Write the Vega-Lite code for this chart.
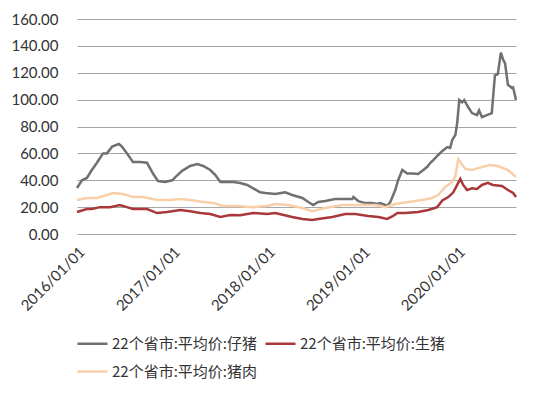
{
  "$schema": "https://vega.github.io/schema/vega-lite/v6.json",
  "width": 439,
  "height": 215,
  "autosize": "none",
  "padding": {"left": 77, "top": 19, "right": 34, "bottom": 162},
  "background": "white",
  "config": {
    "view": {"stroke": null},
    "axisY": {"grid": true, "gridColor": "#a6a6a6", "gridWidth": 1, "gridOpacity": 1, "domain": false, "ticks": false,
      "labelFont": "Lato", "labelFontSize": 15, "labelColor": "#333333", "labelPadding": 19},
    "axisX": {"grid": false, "domain": false, "ticks": false, "labelFont": "Lato", "labelFontSize": 15,
      "labelColor": "#333333", "labelPadding": 10, "labelFlush": false, "labelAngle": -45}
  },
  "data": {"values": [
    {"s": "仔猪", "date": "2016-01-01", "v": 34.2}, {"s": "仔猪", "date": "2016-01-20", "v": 40}, {"s": "仔猪", "date": "2016-02-08", "v": 41.7},
    {"s": "仔猪", "date": "2016-02-27", "v": 47.6}, {"s": "仔猪", "date": "2016-03-17", "v": 52.8}, {"s": "仔猪", "date": "2016-04-10", "v": 60},
    {"s": "仔猪", "date": "2016-04-25", "v": 60}, {"s": "仔猪", "date": "2016-05-15", "v": 65}, {"s": "仔猪", "date": "2016-06-10", "v": 67},
    {"s": "仔猪", "date": "2016-06-22", "v": 65}, {"s": "仔猪", "date": "2016-07-11", "v": 60}, {"s": "仔猪", "date": "2016-08-03", "v": 53.6},
    {"s": "仔猪", "date": "2016-08-30", "v": 53.6}, {"s": "仔猪", "date": "2016-09-26", "v": 53}, {"s": "仔猪", "date": "2016-10-19", "v": 45},
    {"s": "仔猪", "date": "2016-11-07", "v": 39.4}, {"s": "仔猪", "date": "2016-12-04", "v": 38.7}, {"s": "仔猪", "date": "2017-01-01", "v": 40},
    {"s": "仔猪", "date": "2017-01-13", "v": 42.4}, {"s": "仔猪", "date": "2017-02-08", "v": 47}, {"s": "仔猪", "date": "2017-03-11", "v": 50.6},
    {"s": "仔猪", "date": "2017-04-07", "v": 52}, {"s": "仔猪", "date": "2017-04-30", "v": 50.6}, {"s": "仔猪", "date": "2017-05-27", "v": 47.6},
    {"s": "仔猪", "date": "2017-06-15", "v": 44}, {"s": "仔猪", "date": "2017-07-05", "v": 38.7}, {"s": "仔猪", "date": "2017-08-04", "v": 38.7},
    {"s": "仔猪", "date": "2017-08-24", "v": 38.7}, {"s": "仔猪", "date": "2017-09-19", "v": 38}, {"s": "仔猪", "date": "2017-10-16", "v": 36.5},
    {"s": "仔猪", "date": "2017-11-08", "v": 34}, {"s": "仔猪", "date": "2017-12-05", "v": 31}, {"s": "仔猪", "date": "2017-12-25", "v": 30.5},
    {"s": "仔猪", "date": "2018-02-01", "v": 29.8}, {"s": "仔猪", "date": "2018-03-11", "v": 31}, {"s": "仔猪", "date": "2018-04-07", "v": 29},
    {"s": "仔猪", "date": "2018-05-16", "v": 26.8}, {"s": "仔猪", "date": "2018-06-08", "v": 23.8}, {"s": "仔猪", "date": "2018-06-27", "v": 21.6},
    {"s": "仔猪", "date": "2018-07-16", "v": 23.8}, {"s": "仔猪", "date": "2018-08-12", "v": 24.5}, {"s": "仔猪", "date": "2018-09-19", "v": 26},
    {"s": "仔猪", "date": "2018-10-16", "v": 26}, {"s": "仔猪", "date": "2018-11-24", "v": 26}, {"s": "仔猪", "date": "2018-11-28", "v": 27.5},
    {"s": "仔猪", "date": "2018-12-17", "v": 24.5}, {"s": "仔猪", "date": "2019-01-13", "v": 23}, {"s": "仔猪", "date": "2019-02-08", "v": 23},
    {"s": "仔猪", "date": "2019-02-28", "v": 22.3}, {"s": "仔猪", "date": "2019-03-11", "v": 23}, {"s": "仔猪", "date": "2019-04-07", "v": 21},
    {"s": "仔猪", "date": "2019-04-19", "v": 23.8}, {"s": "仔猪", "date": "2019-05-08", "v": 32.7}, {"s": "仔猪", "date": "2019-05-19", "v": 40},
    {"s": "仔猪", "date": "2019-06-04", "v": 47.6}, {"s": "仔猪", "date": "2019-06-23", "v": 45}, {"s": "仔猪", "date": "2019-07-12", "v": 45},
    {"s": "仔猪", "date": "2019-08-04", "v": 44.6}, {"s": "仔猪", "date": "2019-08-24", "v": 47.6}, {"s": "仔猪", "date": "2019-09-08", "v": 50},
    {"s": "仔猪", "date": "2019-09-19", "v": 52.8}, {"s": "仔猪", "date": "2019-10-01", "v": 55}, {"s": "仔猪", "date": "2019-10-20", "v": 58.8},
    {"s": "仔猪", "date": "2019-11-05", "v": 61.8}, {"s": "仔猪", "date": "2019-11-24", "v": 64.7}, {"s": "仔猪", "date": "2019-12-05", "v": 64},
    {"s": "仔猪", "date": "2019-12-13", "v": 70}, {"s": "仔猪", "date": "2019-12-25", "v": 73.7}, {"s": "仔猪", "date": "2020-01-01", "v": 82.6},
    {"s": "仔猪", "date": "2020-01-09", "v": 99.7}, {"s": "仔猪", "date": "2020-01-20", "v": 98}, {"s": "仔猪", "date": "2020-01-28", "v": 99.7},
    {"s": "仔猪", "date": "2020-02-12", "v": 94.5}, {"s": "仔猪", "date": "2020-02-27", "v": 90}, {"s": "仔猪", "date": "2020-03-17", "v": 88.5},
    {"s": "仔猪", "date": "2020-03-25", "v": 92}, {"s": "仔猪", "date": "2020-04-05", "v": 87}, {"s": "仔猪", "date": "2020-04-24", "v": 88.5},
    {"s": "仔猪", "date": "2020-05-13", "v": 90}, {"s": "仔猪", "date": "2020-05-17", "v": 99.7}, {"s": "仔猪", "date": "2020-05-25", "v": 118},
    {"s": "仔猪", "date": "2020-06-05", "v": 119}, {"s": "仔猪", "date": "2020-06-17", "v": 135}, {"s": "仔猪", "date": "2020-06-25", "v": 130},
    {"s": "仔猪", "date": "2020-07-03", "v": 127}, {"s": "仔猪", "date": "2020-07-14", "v": 111}, {"s": "仔猪", "date": "2020-07-30", "v": 108.6},
    {"s": "仔猪", "date": "2020-08-03", "v": 109}, {"s": "仔猪", "date": "2020-08-14", "v": 99.7},
    {"s": "生猪", "date": "2016-01-01", "v": 16.4}, {"s": "生猪", "date": "2016-02-08", "v": 18.6}, {"s": "生猪", "date": "2016-02-27", "v": 18.6},
    {"s": "生猪", "date": "2016-03-29", "v": 20}, {"s": "生猪", "date": "2016-05-07", "v": 20}, {"s": "生猪", "date": "2016-06-14", "v": 21.6},
    {"s": "生猪", "date": "2016-07-11", "v": 20}, {"s": "生猪", "date": "2016-08-03", "v": 18.6}, {"s": "生猪", "date": "2016-09-26", "v": 18.6},
    {"s": "生猪", "date": "2016-11-04", "v": 15.6}, {"s": "生猪", "date": "2016-12-12", "v": 16.4}, {"s": "生猪", "date": "2017-02-01", "v": 17.9},
    {"s": "生猪", "date": "2017-03-11", "v": 17}, {"s": "生猪", "date": "2017-04-19", "v": 15.6}, {"s": "生猪", "date": "2017-05-27", "v": 14.9},
    {"s": "生猪", "date": "2017-07-05", "v": 12.6}, {"s": "生猪", "date": "2017-08-12", "v": 14.1}, {"s": "生猪", "date": "2017-09-19", "v": 14},
    {"s": "生猪", "date": "2017-11-08", "v": 15.6}, {"s": "生猪", "date": "2018-01-01", "v": 14.9}, {"s": "生猪", "date": "2018-02-01", "v": 15.6},
    {"s": "生猪", "date": "2018-04-07", "v": 12.6}, {"s": "生猪", "date": "2018-05-16", "v": 11.2}, {"s": "生猪", "date": "2018-06-23", "v": 10.4},
    {"s": "生猪", "date": "2018-07-16", "v": 11.2}, {"s": "生猪", "date": "2018-09-08", "v": 12.6}, {"s": "生猪", "date": "2018-10-28", "v": 14.9},
    {"s": "生猪", "date": "2018-12-05", "v": 14.9}, {"s": "生猪", "date": "2019-01-24", "v": 13.4}, {"s": "生猪", "date": "2019-03-04", "v": 12.6},
    {"s": "生猪", "date": "2019-04-07", "v": 11.2}, {"s": "生猪", "date": "2019-04-30", "v": 13.4}, {"s": "生猪", "date": "2019-05-16", "v": 15.6},
    {"s": "生猪", "date": "2019-06-15", "v": 15.6}, {"s": "生猪", "date": "2019-08-04", "v": 16.4}, {"s": "生猪", "date": "2019-09-12", "v": 17.9},
    {"s": "生猪", "date": "2019-10-16", "v": 20}, {"s": "生猪", "date": "2019-11-05", "v": 25}, {"s": "生猪", "date": "2019-11-28", "v": 27.5},
    {"s": "生猪", "date": "2019-12-17", "v": 31}, {"s": "生猪", "date": "2020-01-01", "v": 36.5}, {"s": "生猪", "date": "2020-01-13", "v": 41},
    {"s": "生猪", "date": "2020-01-24", "v": 36.5}, {"s": "生猪", "date": "2020-02-08", "v": 32.7}, {"s": "生猪", "date": "2020-02-27", "v": 34},
    {"s": "生猪", "date": "2020-03-17", "v": 33.5}, {"s": "生猪", "date": "2020-04-05", "v": 36.5}, {"s": "生猪", "date": "2020-04-28", "v": 38},
    {"s": "生猪", "date": "2020-05-17", "v": 36.5}, {"s": "生猪", "date": "2020-06-21", "v": 35.7}, {"s": "生猪", "date": "2020-07-14", "v": 32.7},
    {"s": "生猪", "date": "2020-08-03", "v": 30.5}, {"s": "生猪", "date": "2020-08-14", "v": 27.5},
    {"s": "猪肉", "date": "2016-01-01", "v": 25.3}, {"s": "猪肉", "date": "2016-02-08", "v": 26.8}, {"s": "猪肉", "date": "2016-03-17", "v": 26.8},
    {"s": "猪肉", "date": "2016-04-25", "v": 29}, {"s": "猪肉", "date": "2016-05-18", "v": 30.5}, {"s": "猪肉", "date": "2016-06-26", "v": 29.8},
    {"s": "猪肉", "date": "2016-08-03", "v": 27.5}, {"s": "猪肉", "date": "2016-09-11", "v": 27.5}, {"s": "猪肉", "date": "2016-11-04", "v": 25.3},
    {"s": "猪肉", "date": "2016-12-24", "v": 25.3}, {"s": "猪肉", "date": "2017-02-01", "v": 26}, {"s": "猪肉", "date": "2017-03-11", "v": 25.3},
    {"s": "猪肉", "date": "2017-04-30", "v": 23.8}, {"s": "猪肉", "date": "2017-06-08", "v": 23}, {"s": "猪肉", "date": "2017-07-16", "v": 20.8},
    {"s": "猪肉", "date": "2017-09-08", "v": 20.8}, {"s": "猪肉", "date": "2017-11-08", "v": 20}, {"s": "猪肉", "date": "2018-01-01", "v": 20.8},
    {"s": "猪肉", "date": "2018-02-01", "v": 22.3}, {"s": "猪肉", "date": "2018-03-23", "v": 21.6}, {"s": "猪肉", "date": "2018-05-16", "v": 19.3},
    {"s": "猪肉", "date": "2018-06-23", "v": 17}, {"s": "猪肉", "date": "2018-08-12", "v": 19.3}, {"s": "猪肉", "date": "2018-10-16", "v": 21.6},
    {"s": "猪肉", "date": "2018-12-17", "v": 21.6}, {"s": "猪肉", "date": "2019-02-20", "v": 21.6}, {"s": "猪肉", "date": "2019-03-30", "v": 20},
    {"s": "猪肉", "date": "2019-05-08", "v": 22.3}, {"s": "猪肉", "date": "2019-06-27", "v": 23.8}, {"s": "猪肉", "date": "2019-08-20", "v": 25.3},
    {"s": "猪肉", "date": "2019-09-27", "v": 26.8}, {"s": "猪肉", "date": "2019-10-20", "v": 29}, {"s": "猪肉", "date": "2019-11-16", "v": 35},
    {"s": "猪肉", "date": "2019-12-13", "v": 38.7}, {"s": "猪肉", "date": "2019-12-25", "v": 43}, {"s": "猪肉", "date": "2020-01-05", "v": 55.8},
    {"s": "猪肉", "date": "2020-01-13", "v": 53.6}, {"s": "猪肉", "date": "2020-02-01", "v": 48.4}, {"s": "猪肉", "date": "2020-02-27", "v": 47.6},
    {"s": "猪肉", "date": "2020-03-21", "v": 49}, {"s": "猪肉", "date": "2020-05-05", "v": 51.3}, {"s": "猪肉", "date": "2020-06-05", "v": 50.6},
    {"s": "猪肉", "date": "2020-07-14", "v": 47.6}, {"s": "猪肉", "date": "2020-08-14", "v": 42.4}
  ]},
  "mark": {"type": "line", "strokeWidth": 2.5},
  "encoding": {
    "x": {"field": "date", "type": "temporal",
      "scale": {"domain": ["2016-01-01", "2020-08-14"]},
      "axis": {"title": null,
        "values": ["2016-01-01", "2017-01-01", "2018-01-01", "2019-01-01", "2020-01-01"],
        "format": "%Y/%m/%d"}},
    "y": {"field": "v", "type": "quantitative",
      "scale": {"domain": [0, 160], "nice": false},
      "axis": {"title": null, "values": [0, 20, 40, 60, 80, 100, 120, 140, 160], "format": ".2f"}},
    "color": {"field": "s", "type": "nominal",
      "scale": {"domain": ["仔猪", "生猪", "猪肉"], "range": ["#707070", "#a8383a", "#f8cfa8"]},
      "legend": {"title": null, "orient": "none", "legendX": -1, "legendY": 308, "direction": "horizontal",
        "columns": 2, "columnPadding": 3, "rowPadding": 3, "padding": 0, "symbolType": "stroke",
        "symbolSize": 900, "symbolStrokeWidth": 2.5, "labelFont": "Noto Sans CJK SC", "labelFontSize": 15,
        "labelColor": "#333333", "labelOffset": 3, "labelLimit": 0,
        "labelExpr": "'22个省市:平均价:' + datum.label"}}
  }
}
